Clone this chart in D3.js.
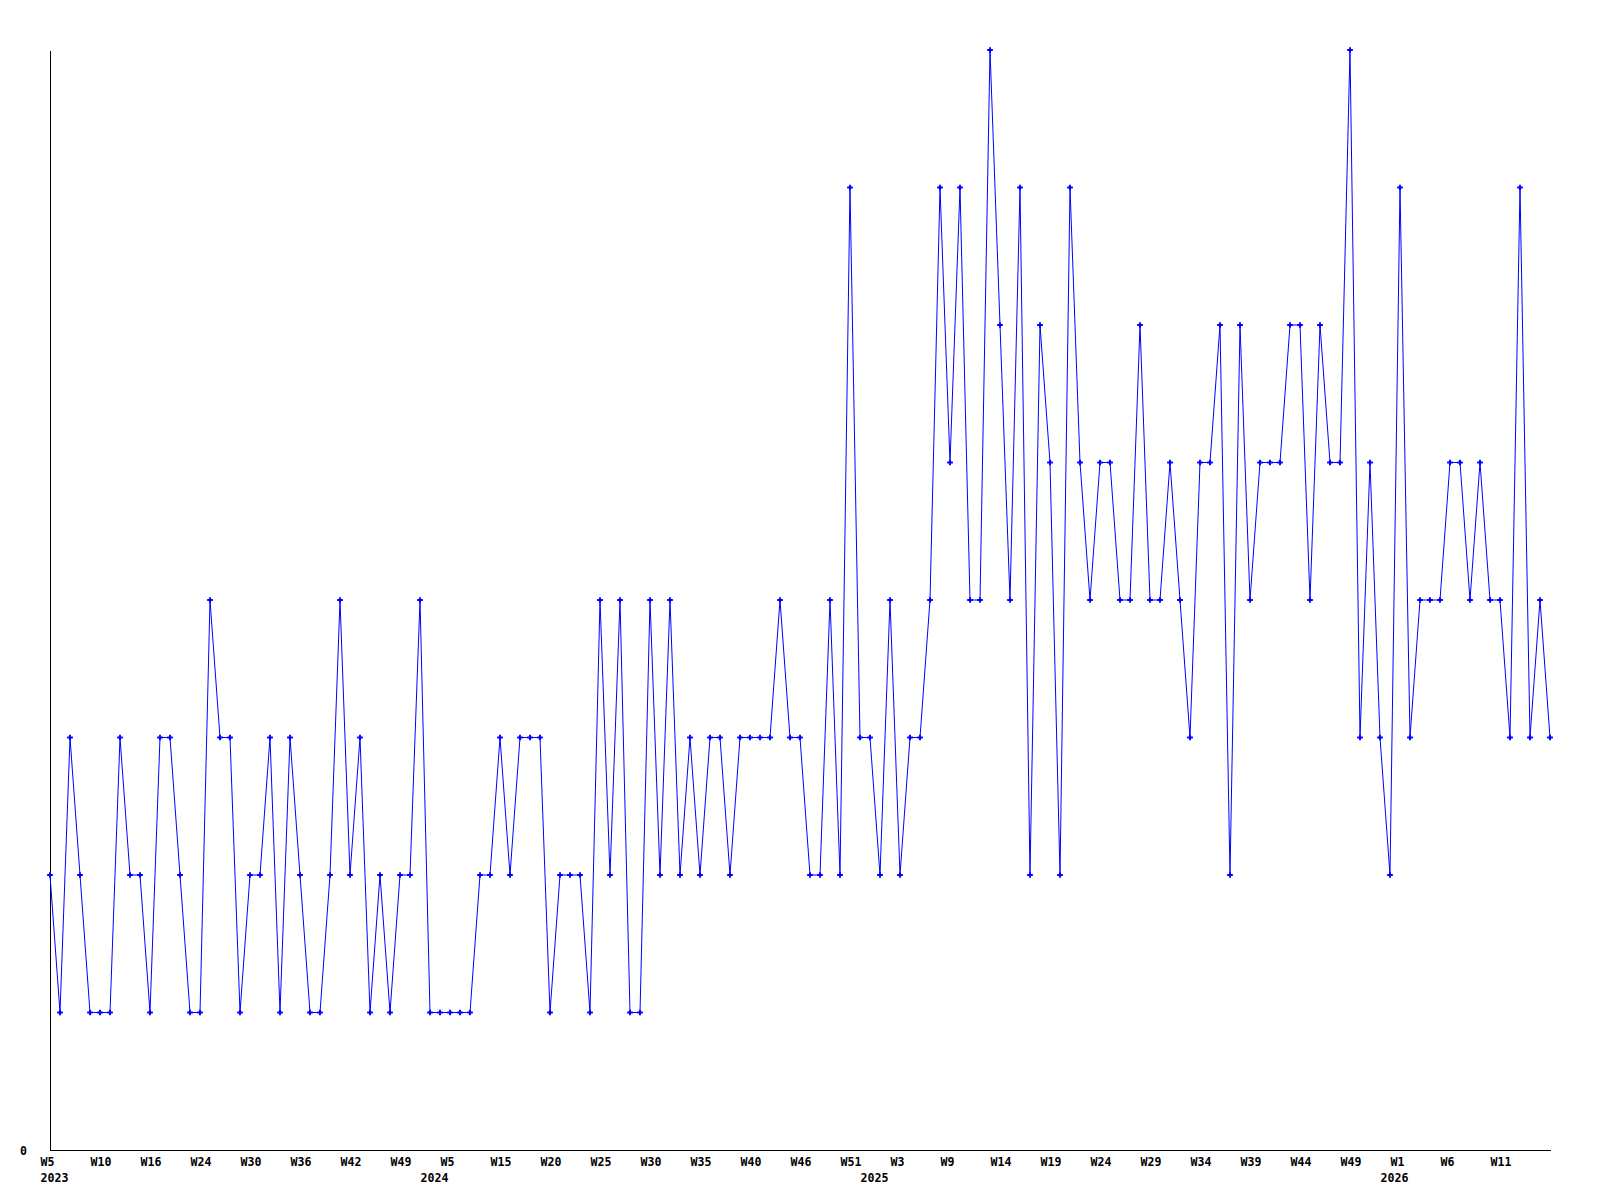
<!DOCTYPE html>
<html>
<head>
<meta charset="utf-8">
<script src="https://cdn.jsdelivr.net/npm/d3@7"></script>
<style>
  body { margin: 0; background: #fff; }
  svg { display: block; }
  .axis text { font-family: "DejaVu Sans Mono", monospace; font-weight: bold; font-size: 11.6px; fill: #000; }
  .axis path { stroke: #000; stroke-width: 1; shape-rendering: crispEdges; }
</style>
</head>
<body>
<svg width="1600" height="1200"></svg>
<script>
// weekly counts, one per point
const values = [
    2, 1, 3, 2, 1, 1, 1, 3, 2, 2, 1, 3, 3, 2, 1, 1, 4, 3, 3, 1, 2, 2, 3, 1, 3, 2,
    1, 1, 2, 4, 2, 3, 1, 2, 1, 2, 2, 4, 1, 1, 1, 1, 1, 2, 2, 3, 2, 3, 3, 3, 1,
    2, 2, 2, 1, 4, 2, 4, 1, 1, 4, 2, 4, 2, 3, 2, 3, 3, 2, 3, 3, 3, 3, 4, 3, 3,
    2, 2, 4, 2, 7, 3, 3, 2, 4, 2, 3, 3, 4, 7, 5, 7, 4, 4, 8, 6, 4, 7, 2, 6, 5,
    2, 7, 5, 4, 5, 5, 4, 4, 6, 4, 4, 5, 4, 3, 5, 5, 6, 2, 6, 4, 5, 5, 5, 6, 6,
    4, 6, 5, 5, 8, 3, 5, 3, 2, 7, 3, 4, 4, 4, 5, 5, 4, 5, 4, 4, 3, 7, 3, 4, 3
];
// labels shown on every 5th point
const weekLabels = ['W5', 'W10', 'W16', 'W24', 'W30', 'W36', 'W42', 'W49',
    'W5', 'W15', 'W20', 'W25', 'W30', 'W35', 'W40', 'W46', 'W51',
    'W3', 'W9', 'W14', 'W19', 'W24', 'W29', 'W34', 'W39', 'W44', 'W49',
    'W1', 'W6', 'W11'];
const yearLabels = ['2023', '2024', '2025', '2026'];
const yearIdx = [0, 38, 82, 134];
const yMax = 8;

const svg = d3.select('svg');
const margin = { left: 50, right: 50, top: 50, bottom: 50 };
const width = +svg.attr('width');
const height = +svg.attr('height');

const idx = d3.range(values.length);
const xScale = d3.scaleLinear()
    .domain([0, values.length - 1])
    .range([margin.left, width - margin.right]);
const yScale = d3.scaleLinear()
    .domain([0, yMax])
    .range([height - margin.bottom, margin.top]);

const xAxis = d3.axisBottom(xScale)
    .tickValues(weekLabels.map((w, i) => i * 5))
    .tickFormat(d => weekLabels[d / 5])
    .tickSize(0)
    .tickSizeOuter(0);

const xAxisG = svg.append('g')
    .attr('class', 'axis')
    .attr('transform', `translate(0,${height - margin.bottom})`)
    .call(xAxis);
xAxisG.selectAll('text')
    .attr('text-anchor', 'start')
    .attr('x', -10)
    .attr('y', 16)
    .attr('dy', 0);

const yearAxis = d3.axisBottom(xScale)
    .tickValues(yearIdx)
    .tickFormat((d, i) => yearLabels[i])
    .tickSize(0);
const yearG = svg.append('g')
    .attr('class', 'axis')
    .attr('transform', `translate(0,${height - margin.bottom})`)
    .call(yearAxis);
yearG.select('.domain').remove();
yearG.selectAll('text')
    .attr('text-anchor', 'start')
    .attr('x', -10)
    .attr('y', 31.5)
    .attr('dy', 0);

const yAxis = d3.axisLeft(yScale)
    .tickValues([0])
    .tickFormat(d3.format('d'))
    .tickSize(0)
    .tickSizeOuter(0)
    .tickPadding(23);
const yAxisG = svg.append('g')
    .attr('class', 'axis')
    .attr('transform', `translate(${margin.left},0)`)
    .call(yAxis);
yAxisG.selectAll('text').attr('dy', '0.4em');

const line = d3.line()
    .x(i => xScale(i))
    .y(i => yScale(values[i]));

svg.append('path')
    .attr('fill', 'none')
    .attr('stroke', '#0000ff')
    .attr('stroke-width', 1)
    .attr('d', line(idx));

svg.append('g')
    .selectAll('path')
    .data(idx)
    .join('path')
    .attr('transform', i => `translate(${xScale(i)},${yScale(values[i])})`)
    .attr('d', d3.symbol(d3.symbolCross).size(18))
    .attr('fill', '#0000ff');
</script>
</body>
</html>
